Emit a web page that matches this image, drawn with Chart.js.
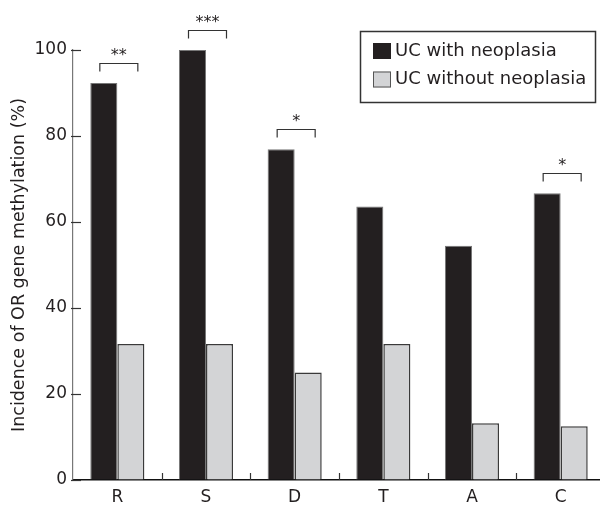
<!DOCTYPE html>
<html>
<head>
<meta charset="utf-8">
<script src="https://cdn.jsdelivr.net/npm/chart.js@4"></script>
<style>
  html, body { margin: 0; padding: 0; background: #fff; overflow: hidden; }
</style>
</head>
<body>
<canvas id="orChart" width="610" height="505"></canvas>
<script>
// Categories (genes) and methylation incidence (%)
const genes = ['R', 'S', 'D', 'T', 'A', 'C'];
const withNeoplasia = [92.3, 100, 76.9, 63.6, 54.5, 66.7];
const withoutNeoplasia = [31.6, 31.6, 25.0, 31.6, 13.2, 12.5];
const significance = ['**', '***', '*', '', '', '*'];
const yTicks = [0, 20, 40, 60, 80, 100];

const FONT = '"DejaVu Sans", sans-serif';
const INK = '#231f20';
const DARK = '#231f20';
const LIGHT = '#d3d4d6';

// Inward ticks, significance brackets and the boxed legend
const extras = {
  id: 'extras',
  afterDraw(chart) {
    const { ctx, scales: { x, y } } = chart;
    ctx.save();
    ctx.strokeStyle = '#333';
    ctx.lineWidth = 1.2;

    // y ticks pointing into the plot
    yTicks.forEach(v => {
      const py = Math.round(y.getPixelForValue(v)) + 0.5;
      ctx.beginPath();
      ctx.moveTo(x.left - 2, py);
      ctx.lineTo(x.left + 8, py);
      ctx.stroke();
    });

    // small upward tick marks between categories
    for (let i = 0; i < genes.length - 1; i++) {
      const bx = Math.round((x.getPixelForValue(i) + x.getPixelForValue(i + 1)) / 2) + 0.5;
      ctx.beginPath();
      ctx.moveTo(bx, y.bottom);
      ctx.lineTo(bx, y.bottom - 7);
      ctx.stroke();
    }

    // significance brackets
    ctx.fillStyle = INK;
    ctx.font = '16px ' + FONT;
    ctx.textAlign = 'center';
    ctx.textBaseline = 'alphabetic';
    significance.forEach((s, i) => {
      if (!s) return;
      const top = y.getPixelForValue(Math.max(withNeoplasia[i], withoutNeoplasia[i]));
      const cx = x.getPixelForValue(i) + 1.5;
      const yb = Math.round(top - 20) + 0.5;
      ctx.beginPath();
      ctx.moveTo(cx - 19, yb + 8);
      ctx.lineTo(cx - 19, yb);
      ctx.lineTo(cx + 19, yb);
      ctx.lineTo(cx + 19, yb + 8);
      ctx.stroke();
      ctx.fillText(s, cx, yb - 4);
    });

    // legend box
    const ds = chart.data.datasets;
    ctx.lineWidth = 1.5;
    ctx.strokeStyle = '#333';
    ctx.strokeRect(360.5, 31.5, 235, 71);
    ctx.font = '18px ' + FONT;
    ctx.textAlign = 'left';
    ctx.textBaseline = 'middle';
    ds.forEach((d, k) => {
      const ty = 51 + k * 28.5;
      ctx.fillStyle = d.backgroundColor;
      ctx.fillRect(373, ty - 8, 18, 16);
      ctx.strokeStyle = k ? '#555' : DARK;
      ctx.lineWidth = 1;
      ctx.strokeRect(373.5, ty - 7.5, 17, 15);
      ctx.fillStyle = INK;
      ctx.fillText(d.label, 395, ty);
    });
    ctx.restore();
  }
};

const config = {
  type: 'bar',
  data: {
    labels: genes,
    datasets: [
      {
        label: 'UC with neoplasia',
        data: withNeoplasia,
        backgroundColor: DARK,
        borderColor: '#777',
        borderWidth: 1
      },
      {
        label: 'UC without neoplasia',
        data: withoutNeoplasia,
        backgroundColor: LIGHT,
        borderColor: '#3a3a3a',
        borderWidth: 1.5
      }
    ]
  },
  options: {
    responsive: false,
    animation: false,
    devicePixelRatio: 1,
    layout: { padding: { top: 50, right: 5, left: 0, bottom: 0 } },
    datasets: { bar: { categoryPercentage: 0.61, barPercentage: 1.0 } },
    plugins: {
      legend: { display: false },
      tooltip: { enabled: false }
    },
    scales: {
      x: {
        grid: { display: false, drawTicks: false },
        border: { display: true, color: '#111', width: 1.5 },
        ticks: { color: INK, font: { family: FONT, size: 17 }, padding: 7 },
        afterFit(scale) { scale.height = 25; }
      },
      y: {
        min: 0,
        max: 100,
        afterBuildTicks(scale) { scale.ticks = yTicks.map(v => ({ value: v })); },
        grid: { drawOnChartArea: false, drawTicks: false },
        border: { display: true, color: '#777', width: 1.2 },
        ticks: { color: INK, font: { family: FONT, size: 17 }, padding: 6 },
        title: {
          display: true,
          text: 'Incidence of OR gene methylation (%)',
          color: INK,
          font: { family: FONT, size: 17.5 },
          padding: { top: 9, bottom: 0 }
        },
        afterFit(scale) { scale.width = 73; }
      }
    }
  },
  plugins: [extras]
};

const orChart = new Chart(document.getElementById('orChart'), config);
</script>
</body>
</html>
